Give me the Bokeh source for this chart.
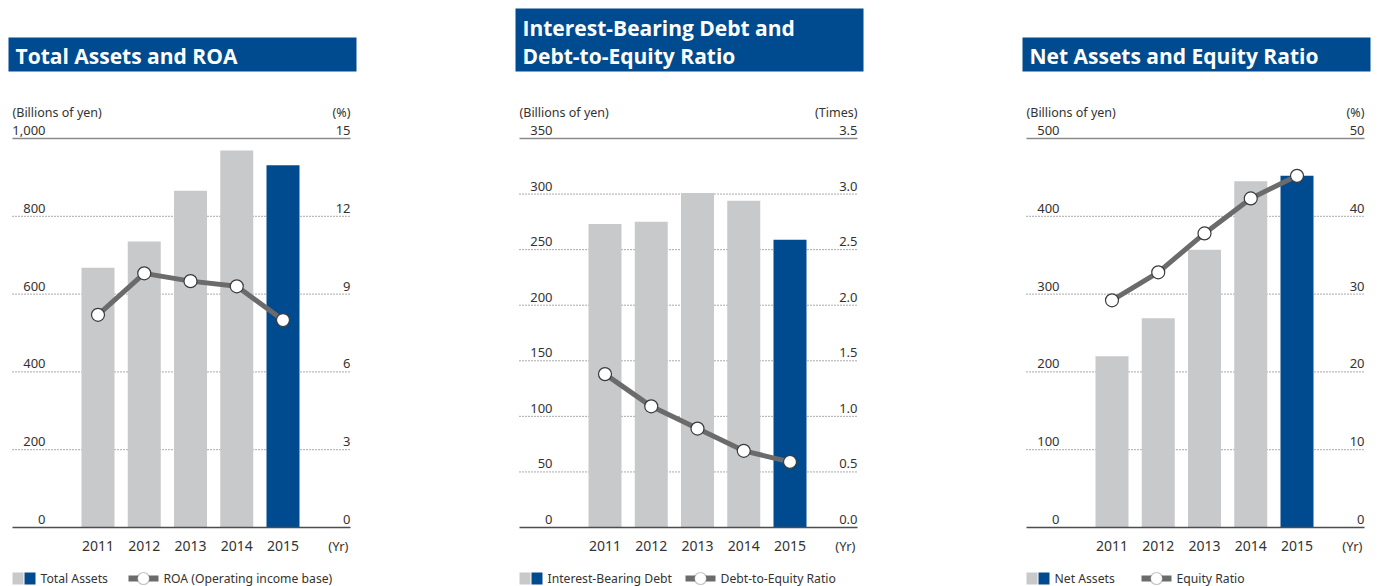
from bokeh.plotting import figure
from bokeh.models import Range1d, BoxAnnotation, Label
from bokeh.layouts import row
from bokeh.embed import file_html
from bokeh.resources import INLINE
from bokeh.core.properties import value

# ---------------- data ----------------
years = [2011, 2012, 2013, 2014, 2015]
year_labels = ["2011", "2012", "2013", "2014", "2015"]

total_assets = [668, 735, 866, 969, 931]          # billions of yen
roa = [8.2, 9.8, 9.5, 9.3, 8.0]                    # %

debt = [273, 275, 301, 294, 259]                   # billions of yen
de_ratio = [1.38, 1.09, 0.89, 0.69, 0.59]          # times

net_assets = [220, 269, 357, 445, 452]             # billions of yen
equity_ratio = [29.2, 32.8, 37.8, 42.3, 45.2]      # %

left_ticks_1 = [0, 200, 400, 600, 800, 1000]
left_labels_1 = ["0", "200", "400", "600", "800", "1,000"]
right_ticks_1 = [0, 3, 6, 9, 12, 15]
right_labels_1 = ["0", "3", "6", "9", "12", "15"]

left_ticks_2 = [0, 50, 100, 150, 200, 250, 300, 350]
left_labels_2 = ["0", "50", "100", "150", "200", "250", "300", "350"]
right_ticks_2 = [0, 0.5, 1.0, 1.5, 2.0, 2.5, 3.0, 3.5]
right_labels_2 = ["0.0", "0.5", "1.0", "1.5", "2.0", "2.5", "3.0", "3.5"]

left_ticks_3 = [0, 100, 200, 300, 400, 500]
left_labels_3 = ["0", "100", "200", "300", "400", "500"]
right_ticks_3 = [0, 10, 20, 30, 40, 50]
right_labels_3 = ["0", "10", "20", "30", "40", "50"]

# ---------------- style ----------------
BLUE = "#004b8f"
GRAY = "#c8c9cb"
LINE = "#6b6b6b"
TXT = "#333333"
FONT = "Noto Sans"
TFONT = "Open Sans"
PXX = 46.25   # pixels per year
H = 586


def panel(W, title_lines, title_top, unit_l, unit_r, lticks, llabels, rticks, rlabels,
          bars, line, bar_name, line_name, leg_line_x):
    maxL = lticks[-1]
    maxR = rticks[-1]
    x0 = years[0] - 97.5 / PXX
    x1 = x0 + W / PXX
    yL1 = maxL * 527 / 389
    yL0 = -maxL * 59 / 389
    yR1 = maxR * 527 / 389
    yR0 = -maxR * 59 / 389

    p = figure(width=W, height=H, x_range=Range1d(x0, x1), y_range=Range1d(yL0, yL1),
               output_backend="svg", toolbar_location=None,
               x_axis_location=None, y_axis_location=None,
               min_border=0, outline_line_color=None)
    p.extra_y_ranges = {"r": Range1d(yR0, yR1)}
    p.xgrid.visible = False
    p.ygrid.visible = False
    p.background_fill_color = "white"

    def px(v):
        return x0 + v / PXX

    def py(v):
        return yL1 - v * (yL1 - yL0) / H

    gx0, gx1 = px(12), px(350)

    inner = lticks[1:-1]
    p.segment(x0=[gx0] * len(inner), x1=[gx1] * len(inner), y0=inner, y1=inner,
              line_color="#555555", line_width=1, line_dash="1 2")
    p.segment(x0=[gx0], x1=[gx1], y0=[maxL], y1=[maxL], line_color="#8a8a8a", line_width=1.5)

    colors = [BLUE if y == years[-1] else GRAY for y in years]
    p.vbar(x=years, top=bars, width=33 / PXX, fill_color=colors, line_color=None)
    p.segment(x0=[gx0], x1=[gx1], y0=[0], y1=[0], line_color="#4d4d4d", line_width=1.5)

    p.line(years, line, y_range_name="r", line_color=LINE, line_width=5)
    p.scatter(years, line, y_range_name="r", size=13, fill_color="white",
              line_color="#3a3a3a", line_width=1.2)

    # tick labels
    p.text(x=[gx0] * len(lticks), y=lticks, text=llabels, x_offset=33, y_offset=-8,
           text_align="right", text_baseline="middle", text_font=value(FONT),
           text_font_size="13px", text_color=TXT)
    p.text(x=[gx1] * len(rticks), y=lticks, text=rlabels, x_offset=0, y_offset=-8,
           text_align="right", text_baseline="middle", text_font=value(FONT),
           text_font_size="13px", text_color=TXT)
    # unit labels
    p.text(x=[gx0], y=[maxL], text=[unit_l], y_offset=-26, text_align="left",
           text_baseline="middle", text_font=value(FONT), text_font_size="12.5px",
           text_color=TXT)
    p.text(x=[gx1], y=[maxL], text=[unit_r], y_offset=-26, text_align="right",
           text_baseline="middle", text_font=value(FONT), text_font_size="12.5px",
           text_color=TXT)
    # year labels
    p.text(x=years, y=[0] * len(years), text=year_labels, y_offset=18, text_align="center",
           text_baseline="middle", text_font=value(FONT), text_font_size="14px",
           text_color=TXT)
    p.text(x=[gx1], y=[0], text=["(Yr)"], x_offset=-2, y_offset=18, text_align="right",
           text_baseline="middle", text_font=value(FONT), text_font_size="13px",
           text_color=TXT)

    # title box
    p.add_layout(BoxAnnotation(left=px(8), right=px(356), top=py(title_top), bottom=py(71),
                               fill_color=BLUE, fill_alpha=1, line_color=None, level="overlay"))
    n = len(title_lines)
    for i, t in enumerate(title_lines):
        cy = 55 - (n - 1 - i) * 28
        p.add_layout(Label(x=px(15), y=py(cy), text=t, text_color="white",
                           text_font=TFONT, text_font_style="bold", text_font_size="21px",
                           text_baseline="middle", level="overlay"))

    # legend
    p.add_layout(BoxAnnotation(left=px(12), right=px(23), top=py(572), bottom=py(584),
                               fill_color=GRAY, fill_alpha=1, line_color=None))
    p.add_layout(BoxAnnotation(left=px(24), right=px(35), top=py(572), bottom=py(584),
                               fill_color=BLUE, fill_alpha=1, line_color=None))
    p.add_layout(Label(x=px(40), y=py(578), text=bar_name, text_color=TXT, text_font=FONT,
                       text_font_size="12.2px", text_baseline="middle"))
    a = leg_line_x
    p.add_layout(BoxAnnotation(left=px(a), right=px(a + 30), top=py(575), bottom=py(581),
                               fill_color=LINE, fill_alpha=1, line_color=None))
    p.add_layout(BoxAnnotation(left=px(a + 9), right=px(a + 21), top=py(572), bottom=py(584),
                               fill_color="white", fill_alpha=1, line_color="#3a3a3a",
                               line_width=1.2, border_radius=6))
    p.add_layout(Label(x=px(a + 35), y=py(578), text=line_name, text_color=TXT, text_font=FONT,
                       text_font_size="12.2px", text_baseline="middle"))
    return p


p1 = panel(507, ["Total Assets and ROA"], 37, "(Billions of yen)", "(%)",
           left_ticks_1, left_labels_1, right_ticks_1, right_labels_1,
           total_assets, roa, "Total Assets", "ROA (Operating income base)", 128)
p2 = panel(507, ["Interest-Bearing Debt and", "Debt-to-Equity Ratio"], 8, "(Billions of yen)", "(Times)",
           left_ticks_2, left_labels_2, right_ticks_2, right_labels_2,
           debt, de_ratio, "Interest-Bearing Debt", "Debt-to-Equity Ratio", 178)
p3 = panel(364, ["Net Assets and Equity Ratio"], 37, "(Billions of yen)", "(%)",
           left_ticks_3, left_labels_3, right_ticks_3, right_labels_3,
           net_assets, equity_ratio, "Net Assets", "Equity Ratio", 127)

layout = row(p1, p2, p3, spacing=0)
open("out.html", "w").write(file_html(layout, INLINE))
